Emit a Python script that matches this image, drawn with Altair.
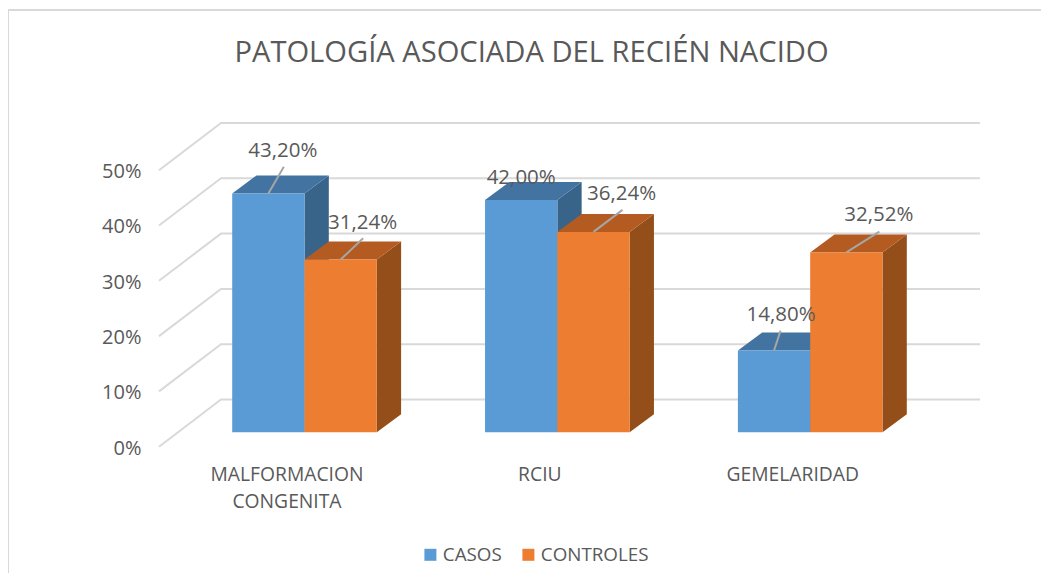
import altair as alt
import pandas as pd

# ---- values ----
series_names = ["CASOS", "CONTROLES"]
casos = [43.20, 42.00, 14.80]
controles = [31.24, 36.24, 32.52]
y_ticks = [0, 10, 20, 30, 40, 50]
title_text = "PATOLOGÍA ASOCIADA DEL RECIÉN NACIDO"

# ---- layout of the pseudo 3D projection (pixels per data unit) ----
W, H = 1033, 565
PX_CAT, PX_PCT = 252.85, 5.53
X0, Y0 = 304.5, 432.3          # page position of category 0 / value 0 on the front plane
BAR, DX, DY = 72.3, 24.3, 18.0  # bar width and depth of the bars
FONT = "Open Sans"
GREY = "#595959"
GRID = "#D9D9D9"

ux = lambda px: px / PX_CAT
uy = lambda px: px / PX_PCT
x_dom = [(8 - X0) / PX_CAT, (8 + W - X0) / PX_CAT]
y_dom = [(Y0 - (8 + H)) / PX_PCT, (Y0 - 8) / PX_PCT]

# hand-placed data labels: offset from the middle of each bar's top edge
label_off = {
    (0, 0): (14.5, -42.4), (0, 1): (22, -36.8),
    (1, 0): (0, -22), (1, 1): (28, -38),
    (2, 0): (7, -35.5), (2, 1): (32.5, -37.5),
}
tip_off = {
    (0, 0): (15.5, -26.7), (0, 1): (22.5, -21.2),
    (1, 1): (29, -22),
    (2, 0): (6.5, -19.8), (2, 1): (33, -20.8),
}

xs = alt.Scale(domain=x_dom, nice=False, zero=False)
ys = alt.Scale(domain=y_dom, nice=False, zero=False)

y_axis = alt.Axis(
    values=y_ticks, labelExpr="datum.value + '%'", title=None, domain=False, ticks=False,
    grid=False, labelFont=FONT, labelFontSize=20, labelColor=GREY, labelOffset=15.8,
    labelPadding=0, offset=-133, orient="left",
)
x_axis = alt.Axis(
    values=[0, 1, 2],
    labelExpr="datum.value == 0 ? ['MALFORMACION', 'CONGENITA'] : datum.value == 1 ? 'RCIU' : 'GEMELARIDAD'",
    title=None, domain=False, ticks=False, grid=False, labelFont=FONT, labelFontSize=19.3,
    labelColor=GREY, labelOffset=-18, labelPadding=0, offset=-(8 + H - 465), labelAngle=0,
    labelLineHeight=27, labelBaseline="top", orient="bottom",
)
X = alt.X("x:Q", scale=xs, axis=x_axis)
Y = alt.Y("y:Q", scale=ys, axis=y_axis)

# back wall grid lines
grid_rows = []
for t in y_ticks:
    grid_rows += [
        {"t": t, "o": 0, "x": ux(159 - X0), "y": t - uy(14.4)},
        {"t": t, "o": 1, "x": ux(221 - X0), "y": t + uy(32.8)},
        {"t": t, "o": 2, "x": ux(980 - X0), "y": t + uy(32.8)},
    ]
grid = alt.Chart(pd.DataFrame(grid_rows)).mark_line(color=GRID, strokeWidth=2).encode(
    x=X, y=Y, detail="t:N", order="o:Q"
)

# frame of the picture (top and left only)
frame_top = alt.Chart(pd.DataFrame({"a": [0]})).mark_rule(color=GRID, strokeWidth=2).encode(
    x=alt.value(0), x2=alt.value(W), y=alt.value(2)
)
frame_left = alt.Chart(pd.DataFrame({"a": [0]})).mark_rule(color=GRID, strokeWidth=2).encode(
    x=alt.value(0), y=alt.value(2), y2=alt.value(H)
)


def faces(values, s, name):
    front, side, top = [], [], []
    for c, v in enumerate(values):
        l = c + ux((s - 1) * BAR)
        r = c + ux(s * BAR)
        front.append({"s": name, "c": c, "x": l, "x2": r, "y": 0, "y2": v})
        side += [
            {"c": c, "x": r, "y": 0, "y2": v},
            {"c": c, "x": r + ux(DX), "y": uy(DY), "y2": v + uy(DY)},
        ]
        top += [
            {"c": c, "y": v, "x": l, "x2": r},
            {"c": c, "y": v + uy(DY), "x": l + ux(DX), "x2": r + ux(DX)},
        ]
    return pd.DataFrame(front), pd.DataFrame(side), pd.DataFrame(top)


color_scale = alt.Scale(domain=series_names, range=["#5B9BD5", "#ED7D31"])
legend = alt.Legend(
    title=None, orient="none", legendX=413, legendY=537, direction="horizontal",
    symbolType="square", symbolSize=144, symbolStrokeWidth=0, labelFont=FONT,
    labelFontSize=18.8, labelColor=GREY, labelOffset=3, columnPadding=17,
)

layers = [grid, frame_top, frame_left]
styles = [("#38648A", "#4374A1"), ("#944E1A", "#B35B20")]
for s, (vals, name) in enumerate(zip([casos, controles], series_names)):
    f, sd, tp = faces(vals, s, name)
    side_col, top_col = styles[s]
    layers.append(
        alt.Chart(sd).mark_area(color=side_col, orient="vertical").encode(
            x=X, y=Y, y2="y2:Q", detail="c:N"
        )
    )
    layers.append(
        alt.Chart(tp).mark_area(color=top_col, orient="horizontal").encode(
            x=X, x2="x2:Q", y=Y, detail="c:N"
        )
    )
    layers.append(
        alt.Chart(f).mark_rect().encode(
            x=X, x2="x2:Q", y=Y, y2="y2:Q",
            color=alt.Color("s:N", scale=color_scale, legend=legend),
        )
    )

label_rows, tip_rows = [], []
for s, vals in enumerate([casos, controles]):
    for c, v in enumerate(vals):
        bx = c + ux((s - 0.5) * BAR)
        dx, dy = label_off[(c, s)]
        label_rows.append(
            {"x": bx + ux(dx), "y": v - uy(dy), "label": f"{v:.2f}".replace(".", ",") + "%"}
        )
        if (c, s) in tip_off:
            tx, ty = tip_off[(c, s)]
            tip_rows.append({"x": bx, "y": v, "x2": bx + ux(tx), "y2": v - uy(ty)})

leaders = alt.Chart(pd.DataFrame(tip_rows)).mark_rule(color="#A6A6A6", strokeWidth=2).encode(
    x=X, y=Y, x2="x2:Q", y2="y2:Q"
)
labels = alt.Chart(pd.DataFrame(label_rows)).mark_text(
    font=FONT, fontSize=20.5, color=GREY, align="center", baseline="middle"
).encode(x=X, y=Y, text="label:N")
layers += [leaders, labels]

chart = alt.layer(*layers).properties(
    width=W,
    height=H,
    padding=0,
    autosize=alt.AutoSizeParams(type="none"),
    title=alt.TitleParams(
        title_text, font=FONT, fontSize=29.15, fontWeight="normal", color=GREY,
        anchor="middle", dx=7, offset=-60, orient="top",
    ),
).configure_view(stroke=None)

chart.save("out.html", embed_options={"renderer": "svg", "actions": False})
